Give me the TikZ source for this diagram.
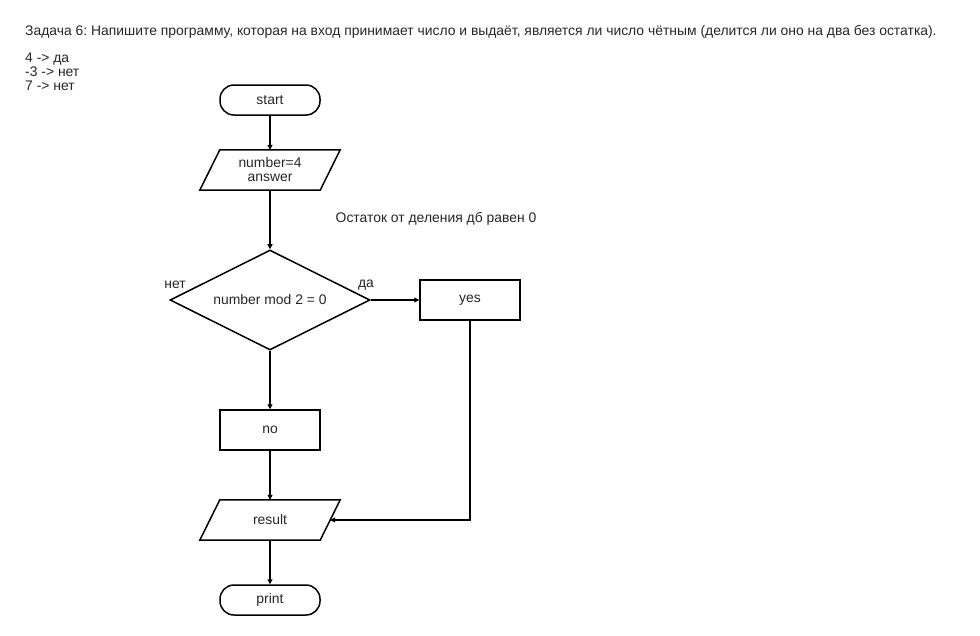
\documentclass[tikz,border=0pt]{standalone}
\usepackage{fontspec}
\setmainfont{Liberation Sans}
\frenchspacing
\usetikzlibrary{shapes.geometric}
\usetikzlibrary{arrows.meta}
\usetikzlibrary{calc}
\usetikzlibrary{positioning}
\tikzset{Term/.style={draw, line width=1.5pt, rounded corners=14pt, minimum width=100pt, minimum height=30pt},
         IO/.style={rectangle, minimum width=140pt, minimum height=40pt, inner sep=0pt, align=center},
         IOline/.style={line width=1.5pt, line join=miter},
         Proc/.style={draw, rectangle, line width=1.5pt, minimum width=100pt, minimum height=40pt},
         Cond/.style={draw, diamond, aspect=2, line width=1.5pt, minimum width=200pt, minimum height=100pt, inner sep=0pt},
         Flow/.style={-{Triangle[length=5pt,width=5pt]}, line width=1.1pt},
         Note/.style={inner sep=0pt}}

\begin{document}
\begin{tikzpicture}[x=1pt, y=-1pt, font=\fontsize{13.9}{14}\selectfont, text=black!85]
  \useasboundingbox (0,0) rectangle (980,635);
    \node[Note, anchor=west] (task) at (25,32) {Задача 6: Напишите программу, которая на вход принимает число и выдаёт, является ли число чётным (делится ли оно на два без остатка).};
    \node[Note, anchor=north west, align=left] (cases) at (25,53) {4 -> да\\-3 -> нет\\7 -> нет};
    \node[Term] (start) at (270,100) {start};
    \node[IO] (input) at (270,170) {number=4\\answer};
    \node[Note] (hint) at (436,219) {Остаток от деления дб равен 0};
    \node[Cond] (check) at (270,300) {number mod 2 = 0};
    \node[Proc] (yes) at (470,300) {yes};
    \node[Proc] (no) at (270,430) {no};
    \node[IO] (result) at (270,520) {result};
    \node[Term] (print) at (270,600) {print};
    \node[Note] (lno) at (175,285) {нет};
    \node[Note] (lyes) at (366,285) {да};
  % slanted input/output boxes
  \foreach \n in {input,result}
    \draw[IOline] ($(\n.north west)+(20,0)$) -- (\n.north east) -- ($(\n.south east)+(-20,0)$) -- (\n.south west) -- cycle;
  \coordinate (resin) at ($(result.east)+(-10,0)$);
  \coordinate (bend) at (yes.south |- resin);
  \draw[Flow] (start) -- (input);
  \draw[Flow] (input) -- (check);
  \draw[Flow] (check.east) -- (yes.west);
  \draw[Flow] (check.south) -- (no.north);
  \draw[Flow] (no) -- (result);
  \draw[Flow] (yes.south) -- (bend) -- (resin);
  \draw[Flow] (result) -- (print);
\end{tikzpicture}
\end{document}
